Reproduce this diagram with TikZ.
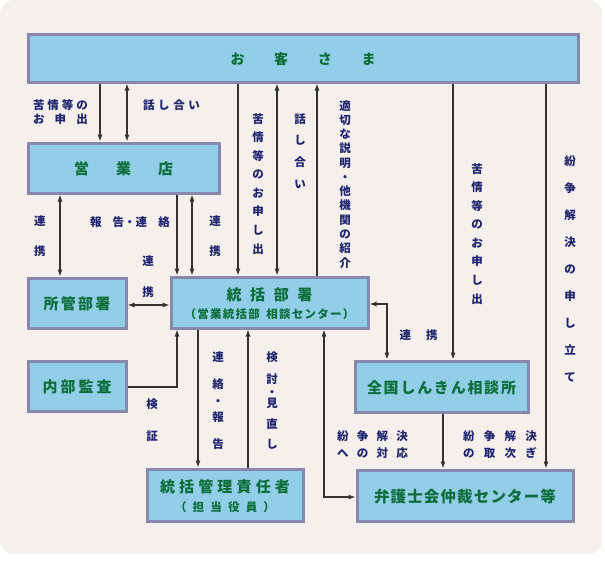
\documentclass[tikz,border=0pt]{standalone}
\usepackage{fontspec}
\usetikzlibrary{arrows.meta,calc}
\newfontfamily\jp{Noto Sans CJK JP}
\XeTeXuseglyphmetrics=0
\lineskiplimit=-100pt
\lineskip=0pt
\definecolor{bgc}{HTML}{F5F0EC}
\definecolor{boxfill}{HTML}{92CEE8}
\definecolor{boxline}{HTML}{8688AC}
\definecolor{ttl}{HTML}{0B6E3A}
\definecolor{navy}{HTML}{1F2470}
\definecolor{arrc}{HTML}{333333}
\tikzset{
  box/.style={draw=boxline, fill=boxfill, line width=3pt, inner sep=0pt, align=center, text=ttl},
  bigf/.style={font=\jp\bfseries\fontsize{15}{18}\selectfont},
  lab/.style={text=navy, inner sep=0pt, align=center, font=\jp\bfseries\fontsize{11.5}{#1}\selectfont},
  lab/.default=14,
  arr/.style={draw=arrc, line width=1.1pt, -{Latex[length=7pt,width=5pt]}},
  darr/.style={draw=arrc, line width=1.1pt, {Latex[length=7pt,width=5pt]}-{Latex[length=7pt,width=5pt]}},
}
\begin{document}
\begin{tikzpicture}[x=1pt,y=-1pt]
\useasboundingbox (0,0) rectangle (605,560);
\fill[white] (0,0) rectangle (605,560);
\fill[bgc, rounded corners=14pt] (0,0) rectangle (602,554);

% boxes
\node[box, minimum width=550pt, minimum height=48pt, font=\jp\bfseries\fontsize{14}{17}\selectfont] (kyaku) at (303,58)
  {\makebox[145pt]{お\hfill 客\hfill さ\hfill ま}};
\node[box, bigf, minimum width=191pt, minimum height=50pt] (eigyo) at (123.5,168)
  {\makebox[99pt]{営\hfill 業\hfill 店}};
\node[box, bigf, minimum width=98pt, minimum height=50pt] (shokan) at (77,303)
  {\makebox[67pt]{所\hfill 管\hfill 部\hfill 署}};
\node[box, minimum width=197pt, minimum height=51pt, font=\jp\bfseries\fontsize{11.5}{18}\selectfont] (tokatsu) at (269.5,302.5)
  {{\fontsize{15}{18}\selectfont\makebox[86pt]{統\hfill 括\hfill 部\hfill 署}}\\
   \makebox[170pt]{（\hfill 営\hfill 業\hfill 統\hfill 括\hfill 部\hfill\hspace{4pt}\hfill 相\hfill 談\hfill セ\hfill ン\hfill タ\hfill ー\hfill ）}};
\node[box, bigf, minimum width=98pt, minimum height=50pt] (naibu) at (77,386)
  {\makebox[69pt]{内\hfill 部\hfill 監\hfill 査}};
\node[box, bigf, minimum width=173pt, minimum height=51pt] (zenkoku) at (441.5,386.5)
  {\makebox[149pt]{全\hfill 国\hfill し\hfill ん\hfill き\hfill ん\hfill 相\hfill 談\hfill 所}};
\node[box, minimum width=156pt, minimum height=52pt, font=\jp\bfseries\fontsize{11.5}{19}\selectfont] (sekinin) at (225,495)
  {{\fontsize{15}{19}\selectfont\makebox[130pt]{統\hfill 括\hfill 管\hfill 理\hfill 責\hfill 任\hfill 者}}\\
   \makebox[100pt]{（\hfill 担\hfill 当\hfill 役\hfill 員\hfill ）}};
\node[box, minimum width=216pt, minimum height=51pt, font=\jp\bfseries\fontsize{15.5}{18}\selectfont] (bengoshi) at (465,495.5)
  {\makebox[182pt]{弁\hfill 護\hfill 士\hfill 会\hfill 仲\hfill 裁\hfill セ\hfill ン\hfill タ\hfill ー\hfill 等}};

% helper coordinates
\coordinate (xa) at (100,0);
\coordinate (xb) at (127,0);
\coordinate (xc) at (60,0);
\coordinate (xd) at (177,0);
\coordinate (xe) at (192,0);
\coordinate (xf) at (238,0);
\coordinate (xg) at (277,0);
\coordinate (xh) at (317,0);
\coordinate (xi) at (453,0);
\coordinate (xj) at (546,0);
\coordinate (xk) at (387,0);
\coordinate (xl) at (443,0);
\coordinate (xm) at (324,0);
\coordinate (xn) at (198,0);
\coordinate (xo) at (248,0);
\coordinate (ya) at (0,305);
\coordinate (yb) at (0,304);
\coordinate (yc) at (0,497);
\coordinate (yd) at (0,387);

% connectors
\draw[arr]  (kyaku.south -| xa) -- (eigyo.north -| xa);
\draw[darr] (kyaku.south -| xb) -- (eigyo.north -| xb);
\draw[darr] (eigyo.south -| xc) -- (shokan.north -| xc);
\draw[arr]  (eigyo.south -| xd) -- (tokatsu.north -| xd);
\draw[darr] (eigyo.south -| xe) -- (tokatsu.north -| xe);
\draw[darr] (shokan.east |- ya) -- (tokatsu.west |- ya);
\draw[arr]  (kyaku.south -| xf) -- (tokatsu.north -| xf);
\draw[darr] (kyaku.south -| xg) -- (tokatsu.north -| xg);
\draw[arr]  (tokatsu.north -| xh) -- (kyaku.south -| xh);
\draw[arr]  (kyaku.south -| xi) -- (zenkoku.north -| xi);
\draw[arr]  (kyaku.south -| xj) -- (bengoshi.north -| xj);
\draw[darr] (tokatsu.east |- yb) -| (zenkoku.north -| xk);
\draw[arr]  (zenkoku.south -| xl) -- (bengoshi.north -| xl);
\draw[darr] (tokatsu.south -| xm) |- (bengoshi.west |- yc);
\draw[arr]  (naibu.east |- yd) -| (tokatsu.south -| xd);
\draw[arr]  (tokatsu.south -| xn) -- (sekinin.north -| xn);
\draw[arr]  (sekinin.north -| xo) -- (tokatsu.south -| xo);

% labels
\node[lab] (la) at (60.5,111) {\makebox[55pt]{苦\hfill 情\hfill 等\hfill の}\\ \makebox[55pt]{お\hfill 申\hfill 出}};
\node[lab] (lb) at (171.5,104) {\makebox[57pt]{話\hfill し\hfill 合\hfill い}};
\node[lab=30] (lc) at (40,235) {連\\携};
\node[lab] (ld) at (130,221) {\makebox[80pt]{報\hfill 告・連\hfill 絡}};
\node[lab=30] (le) at (215,235) {連\\携};
\node[lab=31] (lf) at (148,275.5) {連\\携};
\node[lab=18.57] (lg) at (258,183) {苦\\情\\等\\の\\お\\申\\し\\出};
\node[lab=21.67] (lh) at (300,150.5) {話\\し\\合\\い};
\node[lab=14.27] (li) at (345,183.5) {適\\切\\な\\説\\明\\・\\他\\機\\関\\の\\紹\\介};
\node[lab=18.57] (lj) at (477,233) {苦\\情\\等\\の\\お\\申\\し\\出};
\node[lab=27] (lk) at (570,268) {紛\\争\\解\\決\\の\\申\\し\\立\\て};
\node[lab] (ll) at (418.5,334) {\makebox[38pt]{連\hfill 携}};
\node[lab=32] (lm) at (152,419) {検\\証};
\node[lab=16] (ln) at (218,399.5) {連\\[11pt]絡\\[1pt]・\\報\\[11pt]告};
\node[lab=11] (lo) at (272,399.5) {検\\[11pt]討\\[2pt]・\\見\\[10pt]直\\[9pt]し};
\node[lab=17] (lp) at (372.5,443.5) {\makebox[71pt]{紛\hfill 争\hfill 解\hfill 決}\\ \makebox[71pt]{へ\hfill の\hfill 対\hfill 応}};
\node[lab=17] (lq) at (500,443.5) {\makebox[74pt]{紛\hfill 争\hfill 解\hfill 決}\\ \makebox[74pt]{の\hfill 取\hfill 次\hfill ぎ}};
\end{tikzpicture}
\end{document}
